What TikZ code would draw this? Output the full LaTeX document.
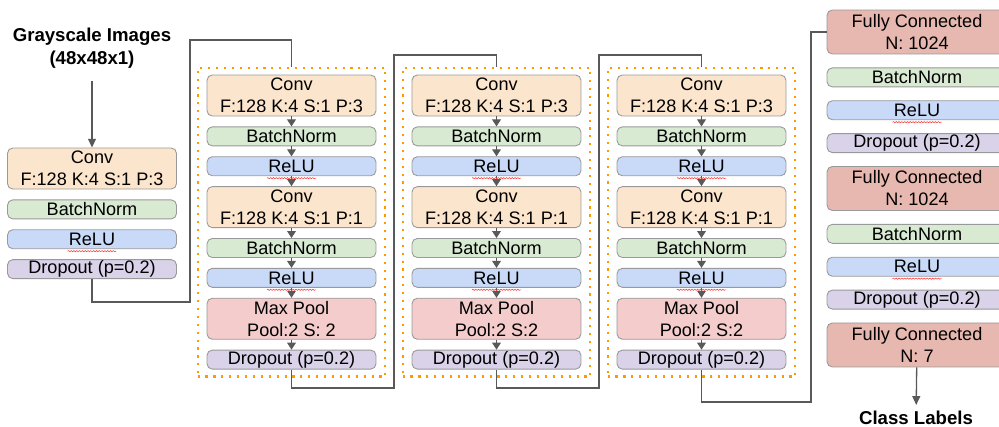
\documentclass[tikz,border=0pt]{standalone}
\usepackage{fontspec}
\setmainfont{Liberation Sans}
\usetikzlibrary{arrows.meta}
\usetikzlibrary{positioning}
\usetikzlibrary{fit}
\usetikzlibrary{decorations.pathmorphing}

\definecolor{convcol}{HTML}{FCE5CD}
\definecolor{bncol}{HTML}{D9EAD3}
\definecolor{relucol}{HTML}{C9DAF8}
\definecolor{dropcol}{HTML}{D9D2E9}
\definecolor{poolcol}{HTML}{F4CCCC}
\definecolor{fccol}{HTML}{E6B8AF}
\definecolor{edgecol}{HTML}{999999}
\definecolor{linecol}{HTML}{595959}
\definecolor{blkcol}{HTML}{FF9900}

\tikzset{
  layer/.style={draw=edgecol, line width=0.5pt, rounded corners=3pt, minimum width=3.38cm,
    inner sep=0pt, align=center, font=\fontsize{10.3}{12.5}\selectfont},
  convbox/.style={layer, fill=convcol, minimum height=0.82cm},
  poolbox/.style={layer, fill=poolcol, minimum height=0.82cm},
  fcbox/.style={layer, fill=fccol, minimum height=0.88cm},
  bnbox/.style={layer, fill=bncol, minimum height=0.38cm},
  relubox/.style={layer, fill=relucol, minimum height=0.38cm},
  dropbox/.style={layer, fill=dropcol, minimum height=0.38cm},
  wide/.style={minimum width=3.6cm},
  blk/.style={draw=blkcol, line width=1.2pt, dash pattern=on 1.2pt off 3.3pt, inner xsep=0.18cm, inner ysep=0.14cm},
  heading/.style={align=center, font=\fontsize{10.6}{12.8}\selectfont\bfseries},
  link/.style={draw=linecol, line width=0.75pt},
  flow/.style={draw=linecol, line width=0.6pt, -{Triangle[width=5pt,length=4pt]}},
  spell/.style={draw=red!80, line width=0.3pt, decorate, decoration={snake, amplitude=0.35pt, segment length=1.6pt}}
}

\begin{document}
\begin{tikzpicture}[x=0.02cm, y=-0.02cm]
  \clip (0,0) rectangle (999,426);

  % input column
  \node[heading] (input) at (92,48) {Grayscale Images\\(48x48x1)};
  \node[convbox] (conv1) at (92,168.5) {Conv\\F:128 K:4 S:1 P:3};
  \node[bnbox, below=0.2cm of conv1] (bn1) {BatchNorm};
  \node[relubox, below=0.2cm of bn1] (relu1) {ReLU};
  \node[dropbox, below=0.2cm of relu1] (drop1) {Dropout (p=0.2)};

  % block 2
  \node[convbox] (conv2a) at (291.5,95.5) {Conv\\F:128 K:4 S:1 P:3};
  \node[bnbox, below=0.2cm of conv2a] (bn2a) {BatchNorm};
  \node[relubox, below=0.2cm of bn2a] (relu2a) {ReLU};
  \node[convbox, below=0.2cm of relu2a] (conv2b) {Conv\\F:128 K:4 S:1 P:1};
  \node[bnbox, below=0.2cm of conv2b] (bn2b) {BatchNorm};
  \node[relubox, below=0.2cm of bn2b] (relu2b) {ReLU};
  \node[poolbox, below=0.2cm of relu2b] (pool2) {Max Pool\\Pool:2 S: 2};
  \node[dropbox, below=0.2cm of pool2] (drop2) {Dropout (p=0.2)};
  \node[blk, fit=(conv2a)(drop2)] (blk2) {};

  % block 3
  \node[convbox] (conv3a) at (496.5,95.5) {Conv\\F:128 K:4 S:1 P:3};
  \node[bnbox, below=0.2cm of conv3a] (bn3a) {BatchNorm};
  \node[relubox, below=0.2cm of bn3a] (relu3a) {ReLU};
  \node[convbox, below=0.2cm of relu3a] (conv3b) {Conv\\F:128 K:4 S:1 P:1};
  \node[bnbox, below=0.2cm of conv3b] (bn3b) {BatchNorm};
  \node[relubox, below=0.2cm of bn3b] (relu3b) {ReLU};
  \node[poolbox, below=0.2cm of relu3b] (pool3) {Max Pool\\Pool:2 S:2};
  \node[dropbox, below=0.2cm of pool3] (drop3) {Dropout (p=0.2)};
  \node[blk, fit=(conv3a)(drop3)] (blk3) {};

  % block 4
  \node[convbox] (conv4a) at (701.5,95.5) {Conv\\F:128 K:4 S:1 P:3};
  \node[bnbox, below=0.2cm of conv4a] (bn4a) {BatchNorm};
  \node[relubox, below=0.2cm of bn4a] (relu4a) {ReLU};
  \node[convbox, below=0.2cm of relu4a] (conv4b) {Conv\\F:128 K:4 S:1 P:1};
  \node[bnbox, below=0.2cm of conv4b] (bn4b) {BatchNorm};
  \node[relubox, below=0.2cm of bn4b] (relu4b) {ReLU};
  \node[poolbox, below=0.2cm of relu4b] (pool4) {Max Pool\\Pool:2 S:2};
  \node[dropbox, below=0.2cm of pool4] (drop4) {Dropout (p=0.2)};
  \node[blk, fit=(conv4a)(drop4)] (blk4) {};

  % dense part
  \node[fcbox, wide] (fc1) at (917,32) {Fully Connected\\N: 1024};
  \node[bnbox, wide, below=0.26cm of fc1] (bn5a) {BatchNorm};
  \node[relubox, wide, below=0.26cm of bn5a] (relu5a) {ReLU};
  \node[dropbox, wide, below=0.26cm of relu5a] (drop5a) {Dropout (p=0.2)};
  \node[fcbox, wide, below=0.26cm of drop5a] (fc2) {Fully Connected\\N: 1024};
  \node[bnbox, wide, below=0.26cm of fc2] (bn5b) {BatchNorm};
  \node[relubox, wide, below=0.26cm of bn5b] (relu5b) {ReLU};
  \node[dropbox, wide, below=0.26cm of relu5b] (drop5b) {Dropout (p=0.2)};
  \node[fcbox, wide, below=0.26cm of drop5b] (fc3) {Fully Connected\\N: 7};
  \node[heading] (classes) at (916,418) {Class Labels};

  % bends of the long connectors
  \coordinate (k1a) at (190,302);
  \coordinate (k1b) at (190,40);
  \coordinate (k2a) at (394,388);
  \coordinate (k2b) at (394,55);
  \coordinate (k3a) at (599,388);
  \coordinate (k3b) at (599,55);
  \coordinate (k4a) at (811,402);

  \draw[link, shorten <=0.14cm, -{Triangle[width=4.5pt,length=5pt]}] (input) -- (conv1);
  \draw[link] (drop1.south) |- (k1a) -- (k1b) -| (blk2.north);
  \draw[link] (drop2.south) |- (k2a) -- (k2b) -| (blk3.north);
  \draw[link] (drop3.south) |- (k3a) -- (k3b) -| (blk4.north);
  \draw[link] (drop4.south) |- (k4a) |- (fc1.west);
  \draw[link, -{Triangle[width=4.5pt,length=5pt]}] (fc3) -- (classes);

  \draw[flow] (conv2a) -- (bn2a);
  \draw[flow] (bn2a) -- (relu2a);
  \draw[flow] (relu2a) -- (conv2b);
  \draw[flow] (conv2b) -- (bn2b);
  \draw[flow] (bn2b) -- (relu2b);
  \draw[flow] (relu2b) -- (pool2);
  \draw[flow] (pool2) -- (drop2);

  \draw[flow] (conv3a) -- (bn3a);
  \draw[flow] (bn3a) -- (relu3a);
  \draw[flow] (relu3a) -- (conv3b);
  \draw[flow] (conv3b) -- (bn3b);
  \draw[flow] (bn3b) -- (relu3b);
  \draw[flow] (relu3b) -- (pool3);
  \draw[flow] (pool3) -- (drop3);

  \draw[flow] (conv4a) -- (bn4a);
  \draw[flow] (bn4a) -- (relu4a);
  \draw[flow] (relu4a) -- (conv4b);
  \draw[flow] (conv4b) -- (bn4b);
  \draw[flow] (bn4b) -- (relu4b);
  \draw[flow] (relu4b) -- (pool4);
  \draw[flow] (pool4) -- (drop4);

  % spell-check marks under ReLU
  \draw[spell] ([xshift=-0.49cm,yshift=-0.04cm]relu1.south) -- ([xshift=0.49cm,yshift=-0.04cm]relu1.south);
  \draw[spell] ([xshift=-0.49cm,yshift=-0.04cm]relu2a.south) -- ([xshift=0.49cm,yshift=-0.04cm]relu2a.south);
  \draw[spell] ([xshift=-0.49cm,yshift=-0.04cm]relu2b.south) -- ([xshift=0.49cm,yshift=-0.04cm]relu2b.south);
  \draw[spell] ([xshift=-0.49cm,yshift=-0.04cm]relu3a.south) -- ([xshift=0.49cm,yshift=-0.04cm]relu3a.south);
  \draw[spell] ([xshift=-0.49cm,yshift=-0.04cm]relu3b.south) -- ([xshift=0.49cm,yshift=-0.04cm]relu3b.south);
  \draw[spell] ([xshift=-0.49cm,yshift=-0.04cm]relu4a.south) -- ([xshift=0.49cm,yshift=-0.04cm]relu4a.south);
  \draw[spell] ([xshift=-0.49cm,yshift=-0.04cm]relu4b.south) -- ([xshift=0.49cm,yshift=-0.04cm]relu4b.south);
  \draw[spell] ([xshift=-0.49cm,yshift=-0.04cm]relu5a.south) -- ([xshift=0.49cm,yshift=-0.04cm]relu5a.south);
  \draw[spell] ([xshift=-0.49cm,yshift=-0.04cm]relu5b.south) -- ([xshift=0.49cm,yshift=-0.04cm]relu5b.south);
\end{tikzpicture}
\end{document}
